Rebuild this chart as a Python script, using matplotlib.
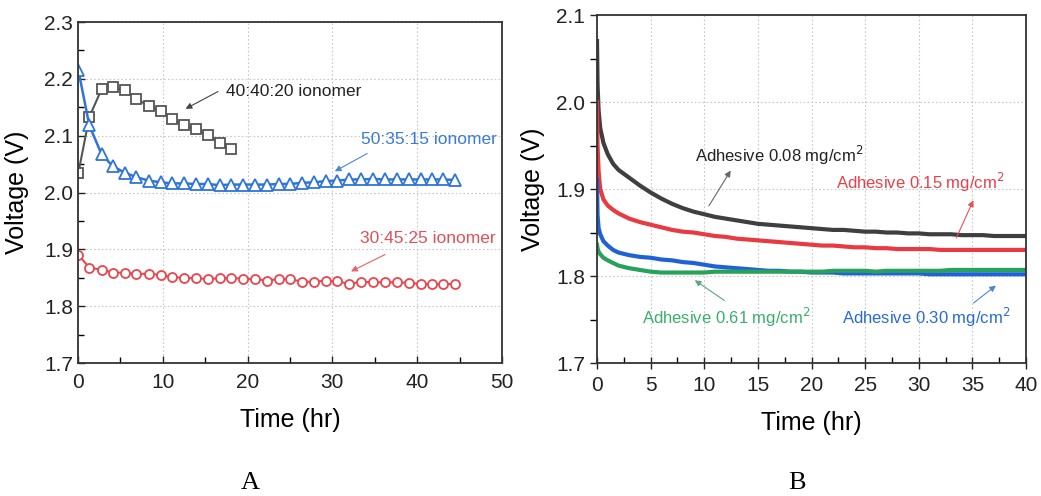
import matplotlib
matplotlib.use("Agg")
import matplotlib.pyplot as plt
from matplotlib.ticker import MultipleLocator

plt.rcParams['font.family'] = ['Liberation Sans', 'DejaVu Sans']

# ---------------- Panel A data ----------------
t_A = [0.05, 1.34, 2.79, 4.13, 5.51, 6.89, 8.33, 9.74, 11.12, 12.53, 13.9, 15.3,
       16.7, 18.1, 19.5, 20.9, 22.3, 23.7, 25.0, 26.4, 27.8, 29.2, 30.6, 32.0,
       33.4, 34.8, 36.2, 37.6, 39.0, 40.4, 41.7, 43.1, 44.5]
v_404020 = [2.035, 2.133, 2.182, 2.185, 2.180, 2.165, 2.152, 2.143, 2.129, 2.118,
            2.111, 2.102, 2.088, 2.076]
v_503515 = [2.215, 2.118, 2.067, 2.046, 2.035, 2.027, 2.021, 2.018, 2.016, 2.016,
            2.015, 2.015, 2.013, 2.014, 2.014, 2.014, 2.014, 2.015, 2.015, 2.017,
            2.018, 2.020, 2.021, 2.023, 2.023, 2.024, 2.023, 2.023, 2.023, 2.023,
            2.023, 2.023, 2.022]
v_304525 = [1.890, 1.868, 1.864, 1.859, 1.859, 1.857, 1.857, 1.855, 1.851, 1.850,
            1.849, 1.848, 1.849, 1.850, 1.848, 1.848, 1.845, 1.848, 1.848, 1.843,
            1.843, 1.845, 1.844, 1.839, 1.843, 1.842, 1.842, 1.842, 1.841, 1.839,
            1.839, 1.839, 1.839]

# ---------------- Panel B data ----------------
t_B = [0, 0.05, 0.15, 0.3, 0.6, 1, 1.5, 2, 3, 4, 5, 6, 7, 8, 9, 10, 11, 12, 13,
       14, 15, 16, 17, 18, 19, 20, 21, 22, 23, 24, 25, 26, 27, 28, 29, 30, 31,
       32, 33, 34, 35, 36, 37, 38, 39, 40]
v_008 = [2.070, 2.020, 1.990, 1.970, 1.953, 1.940, 1.929, 1.922, 1.913, 1.904,
         1.896, 1.889, 1.883, 1.878, 1.874, 1.871, 1.868, 1.866, 1.864, 1.862,
         1.860, 1.859, 1.858, 1.857, 1.856, 1.855, 1.854, 1.853, 1.853, 1.852,
         1.851, 1.851, 1.850, 1.850, 1.849, 1.849, 1.848, 1.848, 1.848, 1.847,
         1.847, 1.847, 1.846, 1.846, 1.846, 1.846]
v_015 = [2.000, 1.950, 1.920, 1.900, 1.888, 1.881, 1.876, 1.872, 1.866, 1.862,
         1.859, 1.856, 1.853, 1.851, 1.850, 1.848, 1.846, 1.845, 1.843, 1.842,
         1.841, 1.840, 1.839, 1.838, 1.837, 1.836, 1.835, 1.835, 1.834, 1.833,
         1.833, 1.832, 1.832, 1.831, 1.831, 1.831, 1.831, 1.830, 1.830, 1.830,
         1.830, 1.830, 1.830, 1.830, 1.830, 1.830]
v_030 = [1.910, 1.870, 1.855, 1.848, 1.840, 1.835, 1.830, 1.827, 1.824, 1.822,
         1.821, 1.819, 1.818, 1.816, 1.815, 1.813, 1.811, 1.810, 1.809, 1.808,
         1.807, 1.806, 1.806, 1.805, 1.805, 1.804, 1.804, 1.804, 1.803, 1.803,
         1.803, 1.803, 1.803, 1.803, 1.803, 1.803, 1.802, 1.802, 1.802, 1.802,
         1.802, 1.802, 1.802, 1.802, 1.802, 1.802]
v_061 = [1.836, 1.832, 1.828, 1.825, 1.821, 1.818, 1.815, 1.812, 1.809, 1.807,
         1.805, 1.804, 1.804, 1.804, 1.804, 1.804, 1.805, 1.805, 1.805, 1.805,
         1.805, 1.805, 1.805, 1.805, 1.805, 1.805, 1.805, 1.806, 1.806, 1.806,
         1.806, 1.805, 1.806, 1.806, 1.806, 1.806, 1.806, 1.806, 1.807, 1.807,
         1.807, 1.807, 1.807, 1.807, 1.807, 1.807]

C_BLACK_A = '#555555'
C_BLUE_A = '#2f74d8'
C_RED_A = '#e8474f'
C_BLACK_B = '#3f3f3f'
C_RED_B = '#e83a40'
C_BLUE_B = '#1f62d8'
C_GREEN_B = '#28a25a'

fig = plt.figure(figsize=(10.41, 4.96), dpi=100)
axA = fig.add_axes([0.0749, 0.2681, 0.4073, 0.6875])
axB = fig.add_axes([0.5735, 0.2681, 0.4121, 0.7016])

def style(ax):
    for s in ax.spines.values():
        s.set_color('#333333')
        s.set_linewidth(1.3)
    ax.grid(True, which='major', color='#c8c8c8', linestyle=(0, (1.5, 2.0)), linewidth=0.8)
    ax.set_axisbelow(True)
    ax.tick_params(labelsize=15, colors='#222222')

# ---- Panel A ----
style(axA)
axA.plot(t_A[:len(v_404020)], v_404020, color=C_BLACK_A, lw=1.5, marker='s', ms=6.5,
         mfc='white', mec=C_BLACK_A, mew=1.3)
axA.plot(t_A, v_503515, color=C_BLUE_A, lw=1.8, marker='^', ms=8.3,
         mfc='white', mec=C_BLUE_A, mew=1.3)
axA.plot(t_A, v_304525, color=C_RED_A, lw=1.5, marker='o', ms=6.5,
         mfc='white', mec=C_RED_A, mew=1.3)
axA.set_xlim(0, 50)
axA.set_ylim(1.7, 2.3)
axA.xaxis.set_major_locator(MultipleLocator(10))
axA.xaxis.set_minor_locator(MultipleLocator(5))
axA.yaxis.set_major_locator(MultipleLocator(0.1))
axA.yaxis.set_minor_locator(MultipleLocator(0.05))
axA.tick_params(which='both', direction='in', top=False, right=False)
axA.tick_params(which='major', length=5, width=1)
axA.tick_params(which='minor', length=4, width=1)
axA.tick_params(axis='x', pad=7)
axA.set_xlabel('Time (hr)', fontsize=18, labelpad=12)
axA.set_ylabel('Voltage (V)', fontsize=18)
axA.yaxis.set_label_coords(-0.116, 0.5)

arrowA = dict(arrowstyle='-|>', color='#444444', lw=0.8, mutation_scale=9)
axA.annotate('', xy=(12.4, 2.145), xytext=(16.8, 2.18), arrowprops=arrowA)
axA.text(17.5, 2.177, '40:40:20 ionomer', fontsize=12.5, color='#222222', va='center')
axA.annotate('', xy=(30.0, 2.035), xytext=(34.4, 2.071),
             arrowprops=dict(arrowstyle='-|>', color='#4a86dc', lw=0.8, mutation_scale=9))
axA.text(33.4, 2.094, '50:35:15 ionomer', fontsize=12.5, color='#3a7ad8', va='center')
axA.annotate('', xy=(31.9, 1.859), xytext=(36.5, 1.893),
             arrowprops=dict(arrowstyle='-|>', color='#e86068', lw=0.8, mutation_scale=9))
axA.text(33.2, 1.919, '30:45:25 ionomer', fontsize=12.5, color='#e0505a', va='center')

# ---- Panel B ----
style(axB)
axB.plot(t_B, v_008, color=C_BLACK_B, lw=3.0)
axB.plot(t_B, v_015, color=C_RED_B, lw=3.0)
axB.plot(t_B, v_030, color=C_BLUE_B, lw=3.0)
axB.plot(t_B, v_061, color=C_GREEN_B, lw=3.0)
axB.set_xlim(0, 40)
axB.set_ylim(1.7, 2.1)
axB.xaxis.set_major_locator(MultipleLocator(5))
axB.xaxis.set_minor_locator(MultipleLocator(2.5))
axB.yaxis.set_major_locator(MultipleLocator(0.1))
axB.yaxis.set_minor_locator(MultipleLocator(0.05))
axB.tick_params(which='both', top=False, right=False)
axB.tick_params(axis='y', which='both', direction='out', length=5, width=1)
axB.tick_params(axis='x', which='major', direction='inout', length=8, width=1, pad=5)
axB.tick_params(axis='x', which='minor', direction='in', length=4, width=1)
axB.set_xlabel('Time (hr)', fontsize=18, labelpad=12)
axB.set_ylabel('Voltage (V)', fontsize=18)
axB.yaxis.set_label_coords(-0.121, 0.5)

axB.annotate('', xy=(12.6, 1.924), xytext=(10.3, 1.878),
             arrowprops=dict(arrowstyle='-|>', color='#666666', lw=0.8, mutation_scale=9))
axB.text(9.1, 1.939, 'Adhesive 0.08 mg/cm$^2$', fontsize=12, color='#222222', va='center')
axB.annotate('', xy=(35.2, 1.890), xytext=(33.4, 1.841),
             arrowprops=dict(arrowstyle='-|>', color='#e85058', lw=0.8, mutation_scale=9))
axB.text(22.3, 1.907, 'Adhesive 0.15 mg/cm$^2$', fontsize=12, color='#e8404a', va='center')
axB.annotate('', xy=(8.9, 1.797), xytext=(12.1, 1.770),
             arrowprops=dict(arrowstyle='-|>', color='#5aa880', lw=0.8, mutation_scale=9))
axB.text(4.2, 1.752, 'Adhesive 0.61 mg/cm$^2$', fontsize=12, color='#3aae6a', va='center')
axB.annotate('', xy=(37.4, 1.791), xytext=(34.9, 1.767),
             arrowprops=dict(arrowstyle='-|>', color='#4a86dc', lw=0.8, mutation_scale=9))
axB.text(22.8, 1.752, 'Adhesive 0.30 mg/cm$^2$', fontsize=12, color='#2a6ad8', va='center')

# Panel letters
fig.text(250 / 1041, 1 - 483 / 496, 'A', fontsize=19, family=['Liberation Serif', 'DejaVu Serif'],
         ha='center', va='center')
fig.text(797 / 1041, 1 - 483 / 496, 'B', fontsize=19, family=['Liberation Serif', 'DejaVu Serif'],
         ha='center', va='center')

fig.savefig('out.png', dpi=100)
